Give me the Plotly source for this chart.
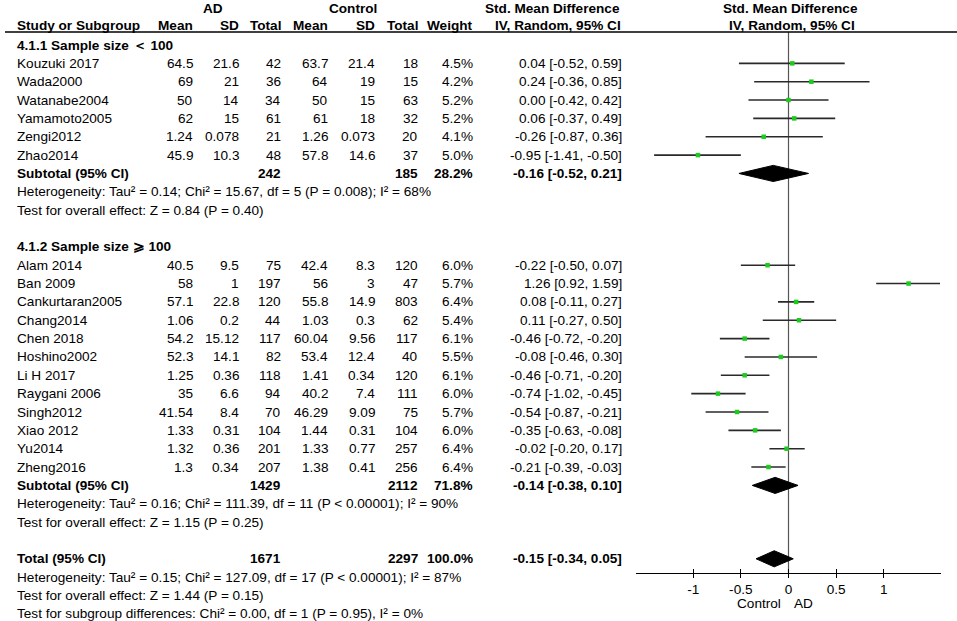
import plotly.graph_objects as go

# study data
studies = ["Kouzuki 2017", "Wada2000", "Watanabe2004", "Yamamoto2005", "Zengi2012", "Zhao2014",
           "Alam 2014", "Ban 2009", "Cankurtaran2005", "Chang2014", "Chen 2018", "Hoshino2002",
           "Li H 2017", "Raygani 2006", "Singh2012", "Xiao 2012", "Yu2014", "Zheng2016"]
group = [1] * 6 + [2] * 12
ad_mean = ["64.5", "69", "50", "62", "1.24", "45.9",
           "40.5", "58", "57.1", "1.06", "54.2", "52.3", "1.25", "35", "41.54", "1.33", "1.32", "1.3"]
ad_sd = ["21.6", "21", "14", "15", "0.078", "10.3",
         "9.5", "1", "22.8", "0.2", "15.12", "14.1", "0.36", "6.6", "8.4", "0.31", "0.36", "0.34"]
ad_n = [42, 36, 34, 61, 21, 48, 75, 197, 120, 44, 117, 82, 118, 94, 70, 104, 201, 207]
ctl_mean = ["63.7", "64", "50", "61", "1.26", "57.8",
            "42.4", "56", "55.8", "1.03", "60.04", "53.4", "1.41", "40.2", "46.29", "1.44", "1.33", "1.38"]
ctl_sd = ["21.4", "19", "15", "18", "0.073", "14.6",
          "8.3", "3", "14.9", "0.3", "9.56", "12.4", "0.34", "7.4", "9.09", "0.31", "0.77", "0.41"]
ctl_n = [18, 15, 63, 32, 20, 37, 120, 47, 803, 62, 117, 40, 120, 111, 75, 104, 257, 256]
weight = [4.5, 4.2, 5.2, 5.2, 4.1, 5.0, 6.0, 5.7, 6.4, 5.4, 6.1, 5.5, 6.1, 6.0, 5.7, 6.0, 6.4, 6.4]
smd = [0.04, 0.24, 0.00, 0.06, -0.26, -0.95,
       -0.22, 1.26, 0.08, 0.11, -0.46, -0.08, -0.46, -0.74, -0.54, -0.35, -0.02, -0.21]
lo = [-0.52, -0.36, -0.42, -0.37, -0.87, -1.41,
      -0.50, 0.92, -0.11, -0.27, -0.72, -0.46, -0.71, -1.02, -0.87, -0.63, -0.20, -0.39]
hi = [0.59, 0.85, 0.42, 0.49, 0.36, -0.50,
      0.07, 1.59, 0.27, 0.50, -0.20, 0.30, -0.20, -0.45, -0.21, -0.08, 0.17, -0.03]

# pooled results: subgroup 1, subgroup 2, overall
pool_labels = ["Subtotal (95% CI)", "Subtotal (95% CI)", "Total (95% CI)"]
pool_ad_n = [242, 1429, 1671]
pool_ctl_n = [185, 2112, 2297]
pool_weight = [28.2, 71.8, 100.0]
pool_smd = [-0.16, -0.14, -0.15]
pool_lo = [-0.52, -0.38, -0.34]
pool_hi = [0.21, 0.10, 0.05]

group_titles = ["4.1.1 Sample size \uff1c 100", "4.1.2 Sample size \u2a7e 100"]
het_text = ["Heterogeneity: Tau\u00b2 = 0.14; Chi\u00b2 = 15.67, df = 5 (P = 0.008); I\u00b2 = 68%",
            "Heterogeneity: Tau\u00b2 = 0.16; Chi\u00b2 = 111.39, df = 11 (P < 0.00001); I\u00b2 = 90%",
            "Heterogeneity: Tau\u00b2 = 0.15; Chi\u00b2 = 127.09, df = 17 (P < 0.00001); I\u00b2 = 87%"]
effect_text = ["Test for overall effect: Z = 0.84 (P = 0.40)",
               "Test for overall effect: Z = 1.15 (P = 0.25)",
               "Test for overall effect: Z = 1.44 (P = 0.15)"]
subgroup_text = "Test for subgroup differences: Chi\u00b2 = 0.00, df = 1 (P = 0.95), I\u00b2 = 0%"

tick_vals = [-1, -0.5, 0, 0.5, 1]
tick_text = ["-1", "-0.5", "0", "0.5", "1"]

W, H = 957, 621
ROW0, ROWH = 45, 18.35   # pixel of first row, row height
FONT = "Liberation Sans, Arial, sans-serif"
FS = 13.6

# build row layout
study_row, pool_row, title_row, het_row, eff_row = [], [], [], [], []
r = 0
for g in (1, 2):
    title_row.append(r)
    r += 1
    for gi in group:
        if gi == g:
            study_row.append(r)
            r += 1
    pool_row.append(r)
    het_row.append(r + 1)
    eff_row.append(r + 2)
    r += 4
pool_row.append(r)
het_row.append(r + 1)
eff_row.append(r + 2)
sub_row = r + 3


def px(x):
    # pixel x -> paper x
    return x / W


def py(y):
    # pixel y (from top) -> paper y
    return (H - y) / H


def row_of_px(p):
    return (p - ROW0) / ROWH


annotations = []


def txt(x, row, s, anchor="right", bold=False, size=FS):
    annotations.append(dict(
        x=px(x), xref="paper", y=row, yref="y", text=f"<b>{s}</b>" if bold else s,
        xanchor=anchor, yanchor="middle", showarrow=False,
        font=dict(family=FONT, size=size, color="black")))


col_x = dict(name=15, ad_mean=195, ad_sd=241, ad_n=283, c_mean=330, c_sd=377, c_n=420, w=475, ci=624)

# headers
hr1, hr2 = row_of_px(8), row_of_px(25)
txt(213, hr1, "AD", "center", True)
txt(353, hr1, "Control", "center", True)
txt(552, hr1, "Std. Mean Difference", "center", True)
txt(790, hr1, "Std. Mean Difference", "center", True)
txt(col_x["name"], hr2, "Study or Subgroup", "left", True)
for key, lab in [("ad_mean", "Mean"), ("ad_sd", "SD"), ("ad_n", "Total"), ("c_mean", "Mean"),
                 ("c_sd", "SD"), ("c_n", "Total"), ("w", "Weight")]:
    txt(col_x[key], hr2, lab, "right", True)
txt(558, hr2, "IV, Random, 95% CI", "center", True)
txt(792, hr2, "IV, Random, 95% CI", "center", True)

# study rows
for i, rr in enumerate(study_row):
    txt(col_x["name"], rr, studies[i], "left")
    txt(col_x["ad_mean"], rr, ad_mean[i])
    txt(col_x["ad_sd"], rr, ad_sd[i])
    txt(col_x["ad_n"], rr, str(ad_n[i]))
    txt(col_x["c_mean"], rr, ctl_mean[i])
    txt(col_x["c_sd"], rr, ctl_sd[i])
    txt(col_x["c_n"], rr, str(ctl_n[i]))
    txt(col_x["w"], rr, f"{weight[i]:.1f}%")
    txt(col_x["ci"], rr, f"{smd[i]:.2f} [{lo[i]:.2f}, {hi[i]:.2f}]")

for k in range(2):
    txt(col_x["name"], title_row[k], group_titles[k], "left", True)

for k, rr in enumerate(pool_row):
    txt(col_x["name"], rr, pool_labels[k], "left", True)
    txt(col_x["ad_n"], rr, str(pool_ad_n[k]), "right", True)
    txt(col_x["c_n"], rr, str(pool_ctl_n[k]), "right", True)
    txt(col_x["w"], rr, f"{pool_weight[k]:.1f}%", "right", True)
    txt(col_x["ci"], rr, f"{pool_smd[k]:.2f} [{pool_lo[k]:.2f}, {pool_hi[k]:.2f}]", "right", True)
    txt(col_x["name"], het_row[k], het_text[k], "left")
    txt(col_x["name"], eff_row[k], effect_text[k], "left")
txt(col_x["name"], sub_row, subgroup_text, "left")

fig = go.Figure()

# confidence interval lines
lx, ly = [], []
for i, rr in enumerate(study_row):
    lx += [lo[i], hi[i], None]
    ly += [rr, rr, None]
fig.add_trace(go.Scatter(x=lx, y=ly, mode="lines", line=dict(color="#2a2a2a", width=1.6),
                         hoverinfo="skip", showlegend=False))

# point estimates
fig.add_trace(go.Scatter(x=smd, y=study_row, mode="markers",
                         marker=dict(symbol="square", size=4.5, color="#1ccc1c", line=dict(width=0)),
                         showlegend=False))

# pooled diamonds
dh = 0.44
for k, rr in enumerate(pool_row):
    fig.add_trace(go.Scatter(
        x=[pool_lo[k], pool_smd[k], pool_hi[k], pool_smd[k], pool_lo[k]],
        y=[rr, rr - dh, rr, rr + dh, rr],
        mode="lines", fill="toself", fillcolor="black", line=dict(color="black", width=1),
        hoverinfo="skip", showlegend=False))

# second x axis only for inner tick marks (ticks cross the axis line)
fig.add_trace(go.Scatter(x=[0], y=[0], xaxis="x2", mode="markers", marker=dict(opacity=0),
                         hoverinfo="skip", showlegend=False))

axis_y = py(573)
xdom = [px(636), px(941)]

for lab, xv, anc in [("Control", -0.06, "right"), ("AD", 0.04, "left")]:
    annotations.append(dict(x=xv, xref="x", y=row_of_px(603), yref="y", text=lab,
                            xanchor=anc, yanchor="middle", showarrow=False,
                            font=dict(family=FONT, size=FS, color="black")))

fig.update_layout(
    width=W, height=H,
    margin=dict(l=0, r=0, t=0, b=0),
    paper_bgcolor="white", plot_bgcolor="white",
    showlegend=False,
    xaxis=dict(domain=xdom, range=[-1.6, 1.6], anchor="free", position=axis_y,
               showgrid=False, zeroline=False, showline=True, linecolor="black", linewidth=1.3,
               ticks="outside", ticklen=4, tickwidth=1.3, tickcolor="black",
               tickvals=tick_vals, ticktext=tick_text,
               tickfont=dict(family=FONT, size=FS, color="black")),
    xaxis2=dict(domain=xdom, range=[-1.6, 1.6], anchor="free", position=axis_y, overlaying="x",
                matches="x", showgrid=False, zeroline=False, showline=False,
                ticks="inside", ticklen=4, tickwidth=1.3, tickcolor="black",
                tickvals=tick_vals, showticklabels=False),
    yaxis=dict(domain=[0, 1], range=[row_of_px(H), row_of_px(0)], visible=False),
    annotations=annotations,
    shapes=[
        dict(type="line", xref="paper", yref="paper", x0=px(5), x1=1, y0=py(32), y1=py(32),
             line=dict(color="black", width=1.3)),
        dict(type="line", xref="x", yref="paper", x0=0, x1=0, y0=axis_y, y1=py(32),
             line=dict(color="#555555", width=1.2), layer="below"),
    ],
)

# drop the default page margin so the figure sits at the window's top-left corner
fig.write_html("out.html", config={"displayModeBar": False},
               post_script="document.body.style.margin='0px';")
